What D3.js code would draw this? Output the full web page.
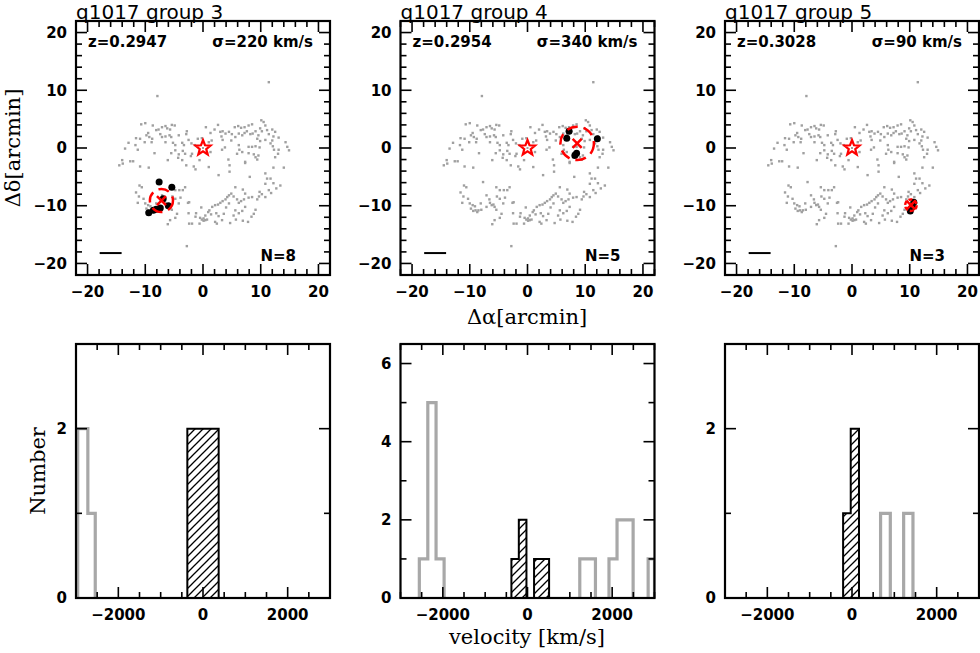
<!DOCTYPE html>
<meta charset="utf-8">
<script src="https://d3js.org/d3.v7.min.js"></script>
<style>
  body { margin: 0; background: #fff; }
  text { fill: #000; }
  .tick-label { font-family: "DejaVu Sans", sans-serif; font-weight: bold; font-size: 15px; }
  .ax-title { font-family: "DejaVu Serif", serif; font-size: 21px; }
  .title { font-family: "DejaVu Sans", sans-serif; font-size: 20px; }
</style>
<body>
<div id="my_dataviz"></div>
<script>
// group info
var groupNames = ["q1017 group 3", "q1017 group 4", "q1017 group 5"];
var groupZ = ["0.2947", "0.2954", "0.3028"];
var groupSigma = [220, 340, 90];
var groupN = [8, 5, 3];

// group centre (arcmin) and circle radius (arcmin)
var centerX = [-7.2, 8.6, 10.2];
var centerY = [-9.1, 0.8, -9.9];
var centerR = [2.0, 2.9, 1.0];

// scale bar length (arcmin), starts at -17.9
var barLength = [3.8, 3.8, 3.8];

// group members [dRA, dDec] in arcmin
var members3 = [[-7.6, -5.9], [-5.4, -6.8], [-9.4, -11.2], [-8.6, -10.8], [-8.1, -10.6], [-6.9, -8.8], [-6.0, -10.0], [-7.4, -10.4]];
var members4 = [[6.8, 1.7], [7.2, 2.9], [12.1, 1.6], [8.2, -1.3], [8.5, -0.9]];
var members5 = [[10.1, -10.9], [10.7, -9.4], [10.5, -10.1]];
var members = [members3, members4, members5];

// all spectroscopic galaxies in the field [dRA, dDec] (arcmin)
var field = [
  [-10.7,4.1],[-10.0,4.3],[-8.7,3.9],[-7.1,3.6],[-6.5,3.8],[-5.4,4.0],[-4.9,3.9],[-6.2,3.4],[-5.7,3.2],[-8.1,3.1],
  [-7.7,3.2],[-9.5,2.6],[-9.8,2.2],[-9.3,1.9],[-11.6,1.7],[-10.9,1.6],[-8.8,1.6],[-7.4,2.4],[-7.1,1.9],[-6.5,2.0],
  [-5.8,2.2],[-5.5,1.9],[-4.2,2.2],[-2.8,2.9],[-2.9,2.4],[-2.5,1.4],[-0.9,1.6],[-0.2,1.7],[-12.9,0.9],[-11.7,0.5],
  [-11.3,-0.3],[-13.5,-0.1],[-10.1,1.0],[-8.9,1.0],[-6.5,1.0],[-5.2,0.9],[-4.8,0.5],[-3.6,0.9],[-3.3,0.5],[-2.0,0.8],
  [-1.4,0.5],[-8.4,-0.9],[-5.5,-0.9],[-4.8,-0.4],[-4.2,-1.1],[-3.5,-0.5],[-3.1,-1.0],[-1.9,-1.0],[-2.1,-1.4],[-4.3,-1.7],
  [-6.1,-2.1],[-3.6,-2.1],[-0.6,-2.1],[-14.0,-2.1],[-13.9,-2.7],[-12.6,-2.3],[-12.1,-2.3],[-14.5,-3.0],
  [2.6,4.0],[2.0,3.2],[0.5,3.6],[1.3,2.6],[3.0,2.8],[3.4,2.9],[3.9,2.5],[4.5,2.8],[5.0,2.4],[5.5,3.6],
  [6.1,3.8],[6.6,3.5],[7.2,3.6],[7.9,3.9],[8.5,4.1],[10.1,4.8],[10.5,4.5],[10.8,3.9],[9.9,3.4],[10.2,2.9],
  [11.1,3.1],[12.0,3.2],[12.5,2.8],[11.4,2.4],[12.2,2.0],[13.1,1.8],[14.3,1.0],[5.6,1.9],[6.2,2.5],[6.8,2.2],
  [7.2,2.6],[7.6,2.9],[8.2,2.4],[8.6,2.5],[9.1,2.9],[9.6,2.2],[9.4,1.6],[9.9,1.2],[10.8,1.4],[11.7,0.8],
  [12.1,0.3],[9.8,0.1],[9.1,0.3],[8.5,0.2],[7.9,0.2],[6.2,0.5],[6.3,-0.3],[6.8,-0.7],[5.9,-1.0],[7.9,-0.9],
  [8.8,-1.1],[9.1,-1.6],[9.4,-2.0],[9.6,-1.3],[7.3,-2.4],[4.4,-2.0],[3.3,-0.3],[3.8,0.1],[1.0,1.0],[1.5,1.3],
  [0.7,-0.9],[1.3,-0.7],[13.1,-0.3],[13.0,-1.0],[12.5,-1.6],[14.9,-0.4],[12.0,1.3],[14.6,0.2],[12.3,-0.3],[4.9,1.3],
  [3.4,1.4],[3.2,2.0],
  [-10.9,-3.2],[-9.4,-3.4],[-2.9,-3.0],[-1.6,-3.2],[-1.3,-3.7],[-7.7,-5.9],[-11.0,-6.5],[-10.6,-6.8],[-11.6,-7.7],[-11.1,-8.4],
  [-10.3,-8.8],[-11.3,-9.5],[-10.0,-9.6],[-9.5,-9.9],[-9.8,-10.5],[-9.1,-10.1],[-9.0,-10.8],[-8.5,-10.8],[-8.7,-11.1],[-9.4,-10.9],
  [-8.1,-9.6],[-8.0,-10.7],[-7.1,-10.2],[-7.1,-8.2],[-6.6,-8.9],[-6.5,-9.5],[-6.2,-9.9],[-5.9,-9.8],[-5.7,-10.2],[-5.4,-10.7],
  [-5.3,-8.4],[-4.8,-8.8],[-4.2,-9.6],[-3.9,-8.6],[-5.4,-6.8],[-4.8,-7.3],[-4.1,-7.3],[-3.5,-7.3],[-3.1,-6.8],[-2.6,-9.5],
  [-2.4,-9.4],[-4.5,-11.4],[-4.8,-12.1],[-5.7,-12.5],[-6.1,-13.2],[-2.5,-11.3],[-1.2,-11.3],[-0.3,-10.3],[-1.3,-11.9],[-0.5,-12.1],
  [-0.2,-12.4],[0.1,-12.6],[0.4,-12.5],[-2.4,-13.1],[-1.9,-13.1],[-0.6,-13.1],
  [1.0,-3.3],[2.7,-4.7],[4.6,-3.0],[4.6,-4.1],[7.3,-2.6],[12.2,-3.4],[14.0,-3.4],[8.1,-5.0],[10.8,-4.4],[11.1,-5.3],
  [11.7,-5.3],[10.8,-6.2],[12.2,-6.1],[13.4,-6.5],[12.7,-7.0],[5.6,-6.8],[6.9,-7.2],[11.4,-7.3],[11.8,-7.8],[9.8,-7.6],
  [9.7,-8.4],[10.2,-8.0],[10.8,-8.5],[9.4,-8.9],[8.5,-8.5],[7.9,-8.6],[7.3,-7.9],[7.1,-8.9],[6.6,-9.2],[6.2,-9.5],
  [5.9,-8.9],[5.3,-8.4],[4.9,-7.9],[4.5,-8.2],[4.2,-8.5],[3.9,-8.9],[3.4,-9.2],[3.0,-9.5],[2.6,-9.8],[2.1,-9.9],
  [1.6,-10.2],[1.1,-10.8],[0.9,-11.1],[0.4,-11.7],[0.1,-12.2],[1.4,-11.5],[2.3,-11.3],[2.7,-11.8],[2.1,-12.8],[2.4,-13.1],
  [4.0,-10.3],[4.5,-9.6],[5.6,-10.8],[6.2,-11.3],[6.8,-10.9],[5.3,-11.7],[5.7,-12.4],[6.9,-12.6],[7.8,-12.8],[8.4,-11.9],
  [8.8,-11.4],[9.1,-10.7],[7.3,-10.2],[3.6,-11.4],[0.7,-12.4],[3.3,-12.5],[4.7,-13.0],
  [11.4,11.4],[-7.9,9.0],[-2.8,-17.0]
];

// velocity histograms: [low edge, high edge, count] in km/s
var grayHist3 = [[-2960, -2720, 2], [-2720, -2545, 1]];
var blackHist3 = [[-370, 370, 2]];
var grayHist4 = [[-2555, -2355, 1], [-2355, -2160, 5], [-2160, -1970, 1], [1235, 1605, 1], [1925, 2115, 1], [2115, 2495, 2], [2850, 3000, 1]];
var blackHist4 = [[-380, -205, 1], [-205, -25, 2], [155, 510, 1]];
var grayHist5 = [[675, 905, 1], [1220, 1440, 1]];
var blackHist5 = [[-210, -30, 1], [-30, 165, 2]];
var grayHists = [grayHist3, grayHist4, grayHist5];
var blackHists = [blackHist3, blackHist4, blackHist5];
var countMax = [3, 6.5, 3];
var countMajor = [[0, 2], [0, 2, 4, 6], [0, 2]];

// tick values
var posMajor = [-20, -10, 0, 10, 20];
var velMajor = [-2000, 0, 2000];

// layout
var size = 254;
var lefts = [76, 400.5, 725];
var topRow = 21, botRow = 344;

var svg = d3.select("#my_dataviz")
  .append("svg")
    .attr("width", 980)
    .attr("height", 653);

// hatch pattern
var defs = svg.append("defs");
defs.append("pattern")
    .attr("id", "hatch")
    .attr("patternUnits", "userSpaceOnUse")
    .attr("width", 8).attr("height", 8)
  .append("path")
    .attr("d", "M-2,2 l4,-4 M0,8 l8,-8 M6,10 l4,-4")
    .attr("stroke", "#000")
    .attr("stroke-width", 1.3);

var fmt = function(d) { return d < 0 ? "\u2212" + Math.abs(d) : "" + d; };

function frame(g, x, y, xMaj, xMin, yMaj, yMin) {
  var x0 = x.range()[0], x1 = x.range()[1];
  var y0 = y.range()[0], y1 = y.range()[1];
  var t = g.append("g").attr("stroke", "#000").attr("stroke-width", 1.6);
  xMin.forEach(function(v) {
    var L = xMaj.indexOf(v) >= 0 ? 11 : 6;
    t.append("line").attr("x1", x(v)).attr("x2", x(v)).attr("y1", y0).attr("y2", y0 - L);
    t.append("line").attr("x1", x(v)).attr("x2", x(v)).attr("y1", y1).attr("y2", y1 + L);
  });
  yMin.forEach(function(v) {
    var L = yMaj.indexOf(v) >= 0 ? 11 : 6;
    t.append("line").attr("y1", y(v)).attr("y2", y(v)).attr("x1", x0).attr("x2", x0 + L);
    t.append("line").attr("y1", y(v)).attr("y2", y(v)).attr("x1", x1).attr("x2", x1 - L);
  });
  g.append("rect")
    .attr("x", x0).attr("y", y1)
    .attr("width", x1 - x0).attr("height", y0 - y1)
    .attr("fill", "none").attr("stroke", "#000").attr("stroke-width", 2.2);
  g.selectAll(".xl").data(xMaj).enter().append("text")
    .attr("class", "tick-label")
    .attr("x", function(d) { return x(d); })
    .attr("y", y0 + 22)
    .attr("text-anchor", "middle")
    .text(fmt);
  g.selectAll(".yl").data(yMaj).enter().append("text")
    .attr("class", "tick-label")
    .attr("x", x0 - 9)
    .attr("y", function(d) { return y(d); })
    .attr("dy", "0.36em")
    .attr("text-anchor", "end")
    .text(fmt);
}

function starPath(cx, cy, R, r) {
  var p = [];
  for (var i = 0; i < 10; i++) {
    var a = -Math.PI / 2 + i * Math.PI / 5;
    var rr = i % 2 === 0 ? R : r;
    p.push([cx + rr * Math.cos(a), cy + rr * Math.sin(a)]);
  }
  return "M" + p.join("L") + "Z";
}

// split bins into contiguous runs and build step outlines
function runs(bins) {
  var out = [], cur = [];
  bins.forEach(function(b) {
    if (cur.length && cur[cur.length - 1][1] !== b[0]) { out.push(cur); cur = []; }
    cur.push(b);
  });
  if (cur.length) out.push(cur);
  return out;
}
function stepLine(run) {
  var pts = [[run[0][0], 0]];
  run.forEach(function(b) { pts.push([b[0], b[2]]); pts.push([b[1], b[2]]); });
  pts.push([run[run.length - 1][1], 0]);
  return pts;
}

for (var k = 0; k < 3; k++) {
  var left = lefts[k];

  // ---------- sky panel ----------
  var x = d3.scaleLinear().domain([-22, 22]).range([left, left + size]);
  var y = d3.scaleLinear().domain([-22, 22]).range([topRow + size, topRow]);
  var g = svg.append("g");

  g.append("text").attr("class", "title")
    .attr("x", left).attr("y", 19)
    .text(groupNames[k]);

  g.selectAll(".fld").data(field).enter().append("rect")
    .attr("x", function(d) { return x(d[0]) - 1.2; })
    .attr("y", function(d) { return y(d[1]) - 1.2; })
    .attr("width", 2.4).attr("height", 2.4)
    .attr("fill", "#a0a0a0");

  g.selectAll(".mem").data(members[k]).enter().append("circle")
    .attr("cx", function(d) { return x(d[0]); })
    .attr("cy", function(d) { return y(d[1]); })
    .attr("r", 3.5)
    .attr("fill", "#000");

  // QSO star at origin
  g.append("path")
    .attr("d", starPath(x(0), y(0), 8, 3.4))
    .attr("fill", "#fff").attr("stroke", "#f00").attr("stroke-width", 2.2);
  g.append("rect").attr("x", x(0) - 1).attr("y", y(0) - 1).attr("width", 2).attr("height", 2).attr("fill", "#a0a0a0");

  // group centre and dashed circle
  var cx = x(centerX[k]), cy = y(centerY[k]);
  g.append("circle")
    .attr("cx", cx).attr("cy", cy)
    .attr("r", x(centerR[k]) - x(0))
    .attr("fill", "none").attr("stroke", "#f00").attr("stroke-width", 2.5)
    .attr("stroke-dasharray", k === 2 ? "4,2" : "11,6");
  g.append("path")
    .attr("d", "M" + (cx - 4.5) + "," + (cy - 4.5) + "l9,9M" + (cx - 4.5) + "," + (cy + 4.5) + "l9,-9")
    .attr("stroke", "#f00").attr("stroke-width", 2.5);

  // scale bar
  g.append("line")
    .attr("x1", x(-17.9)).attr("x2", x(-17.9 + barLength[k]))
    .attr("y1", y(-18.2)).attr("y2", y(-18.2))
    .attr("stroke", "#000").attr("stroke-width", 2);

  g.append("text").attr("class", "tick-label")
    .attr("x", left + 12).attr("y", topRow + 26)
    .text("z=" + groupZ[k]);
  g.append("text").attr("class", "tick-label")
    .attr("x", left + 237).attr("y", topRow + 26)
    .attr("text-anchor", "end")
    .text("\u03c3=" + groupSigma[k] + " km/s");
  g.append("text").attr("class", "tick-label")
    .attr("x", left + 220).attr("y", topRow + 240)
    .attr("text-anchor", "end")
    .text("N=" + groupN[k]);

  frame(g, x, y, posMajor, d3.range(-22, 23, 2), posMajor, d3.range(-22, 23, 2));

  // ---------- velocity histogram ----------
  var xv = d3.scaleLinear().domain([-3000, 3000]).range([left, left + size]);
  var yv = d3.scaleLinear().domain([0, countMax[k]]).range([botRow + size, botRow]);
  var h = svg.append("g");
  var clipId = "clip" + k;
  defs.append("clipPath").attr("id", clipId)
    .append("rect").attr("x", left).attr("y", botRow).attr("width", size).attr("height", size);

  var line = d3.line()
    .x(function(d) { return xv(d[0]); })
    .y(function(d) { return yv(d[1]); });

  runs(grayHists[k]).forEach(function(r) {
    h.append("path").attr("d", line(stepLine(r)))
      .attr("clip-path", "url(#" + clipId + ")")
      .attr("fill", "none").attr("stroke", "#a8a8a8").attr("stroke-width", 3.2);
  });
  runs(blackHists[k]).forEach(function(r) {
    h.append("path").attr("d", line(stepLine(r)) + "Z")
      .attr("fill", "url(#hatch)").attr("stroke", "#000").attr("stroke-width", 2);
  });

  frame(h, xv, yv, velMajor, d3.range(-3000, 3001, 500), countMajor[k], d3.range(0, countMax[k] + 0.01, 1));
}

// axis titles
svg.append("text").attr("class", "ax-title")
  .attr("transform", "translate(20,148) rotate(-90)")
  .attr("text-anchor", "middle")
  .text("\u0394\u03b4[arcmin]");
svg.append("text").attr("class", "ax-title")
  .attr("x", 527).attr("y", 324)
  .attr("text-anchor", "middle")
  .text("\u0394\u03b1[arcmin]");
svg.append("text").attr("class", "ax-title")
  .attr("transform", "translate(45,471) rotate(-90)")
  .attr("text-anchor", "middle")
  .text("Number");
svg.append("text").attr("class", "ax-title")
  .attr("x", 527).attr("y", 644)
  .attr("text-anchor", "middle")
  .text("velocity [km/s]");
</script>
</body>
